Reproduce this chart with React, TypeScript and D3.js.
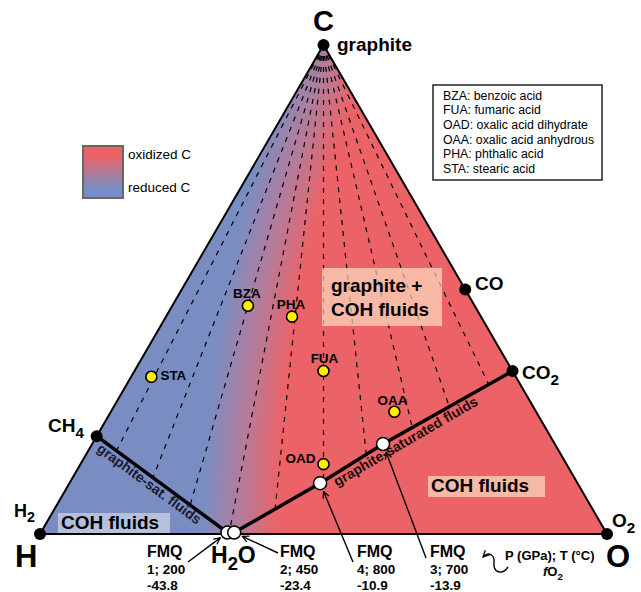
import React from "react";
import * as d3 from "d3";

const FONT = "'Liberation Sans', Arial, Helvetica, sans-serif";

// atomic C-H-O proportions of the species drawn as black dots
const species = [
  { name: "graphite", c: 1, h: 0, o: 0 },
  { name: "CH4", c: 1, h: 4, o: 0 },
  { name: "H2", c: 0, h: 2, o: 0 },
  { name: "O2", c: 0, h: 0, o: 2 },
  { name: "CO", c: 1, h: 0, o: 1 },
  { name: "CO2", c: 1, h: 0, o: 2 },
];

const water = { name: "H2O", c: 0, h: 2, o: 1 };

// starting materials (atoms per formula unit)
const compounds = [
  { code: "BZA", name: "benzoic acid", c: 7, h: 6, o: 2 },
  { code: "FUA", name: "fumaric acid", c: 4, h: 4, o: 4 },
  { code: "OAD", name: "oxalic acid dihydrate", c: 2, h: 6, o: 6 },
  { code: "OAA", name: "oxalic acid anhydrous", c: 2, h: 2, o: 4 },
  { code: "PHA", name: "phthalic acid", c: 8, h: 6, o: 4 },
  { code: "STA", name: "stearic acid", c: 18, h: 36, o: 2 },
];

// graphite-saturated fluids at FMQ: P (GPa), T (°C), log fO2
const fmqFluids = [
  { run: 1, p: 1, t: 200, logfO2: "-43.8", c: 0.003, h: 0.668, o: 0.329 },
  { run: 2, p: 2, t: 450, logfO2: "-23.4", c: 0.003, h: 0.656, o: 0.341 },
  { run: 4, p: 4, t: 800, logfO2: "-10.9", c: 0.104, h: 0.454, o: 0.442 },
  { run: 3, p: 3, t: 700, logfO2: "-13.9", c: 0.184, h: 0.303, o: 0.513 },
];

// O/(O+H) of the dashed lines radiating from C
const ratioLines = [0.06, 0.16, 0.25, 1 / 3, 0.41, 0.5, 0.59, 0.7, 0.8, 0.92];

const BLUE = "#7a8dc2";
const RED = "#eb6367";

type Pt = [number, number];

function hit(p1: Pt, p2: Pt, p3: Pt, p4: Pt) {
  const d = (p2[0] - p1[0]) * (p4[1] - p3[1]) - (p2[1] - p1[1]) * (p4[0] - p3[0]);
  if (Math.abs(d) < 1e-9) return null;
  const t = ((p3[0] - p1[0]) * (p4[1] - p3[1]) - (p3[1] - p1[1]) * (p4[0] - p3[0])) / d;
  const u = ((p3[0] - p1[0]) * (p2[1] - p1[1]) - (p3[1] - p1[1]) * (p2[0] - p1[0])) / d;
  if (t < 0 || t > 1 || u < 0 || u > 1) return null;
  return t;
}

const Sub = ({ children, size }: any) => (
  <tspan dy={size * 0.3} fontSize={size * 0.8}>{children}</tspan>
);

export default function App() {
  const width = 641;
  const height = 592;

  const xScale = d3.scaleLinear().domain([0, 1]).range([40, 607]);
  const yScale = d3.scaleLinear().domain([0, 1]).range([534, 45]);

  const project = (d: any): Pt => {
    const s = d.c + d.h + d.o;
    const c = d.c / s;
    const o = d.o / s;
    return [xScale(o + c / 2), yScale(c)];
  };

  const C = project({ c: 1, h: 0, o: 0 });
  const Hv = project({ c: 0, h: 1, o: 0 });
  const Ov = project({ c: 0, h: 0, o: 1 });
  const sp: any = {};
  species.forEach((s) => (sp[s.name] = project(s)));
  const fl: any = {};
  fmqFluids.forEach((f) => (fl[f.run] = project(f)));

  const leftBranch: Pt[] = [sp.CH4, fl[1]];
  const rightBranch: Pt[] = [fl[2], fl[4], fl[3], sp.CO2];
  const segs: [Pt, Pt][] = [];
  [leftBranch, rightBranch].forEach((b) =>
    b.slice(1).forEach((p, i) => segs.push([b[i], p]))
  );

  const dashes = ratioLines.map((r) => {
    const end = project({ c: 0, h: 1 - r, o: r });
    let tMin = 1;
    segs.forEach(([a, b]) => {
      const t = hit(C, end, a, b);
      if (t !== null && t < tMin) tMin = t;
    });
    return [C, [C[0] + (end[0] - C[0]) * tMin, C[1] + (end[1] - C[1]) * tMin]] as [Pt, Pt];
  });

  const line = d3.line();

  // transform for text running along a branch, offset to its lower side
  const along = (a: Pt, b: Pt, dist: number, off: number) => {
    const len = Math.hypot(b[0] - a[0], b[1] - a[1]);
    const ux = (b[0] - a[0]) / len;
    const uy = (b[1] - a[1]) / len;
    const nx = -uy;
    const ny = ux;
    const ang = (Math.atan2(uy, ux) * 180) / Math.PI;
    return `translate(${a[0] + ux * dist + nx * off},${a[1] + uy * dist + ny * off}) rotate(${ang})`;
  };

  const compoundLabel: any = {
    BZA: { dx: -1, dy: -8, anchor: "middle" },
    PHA: { dx: -1, dy: -8, anchor: "middle" },
    FUA: { dx: 1, dy: -8, anchor: "middle" },
    OAA: { dx: -2, dy: -7, anchor: "middle" },
    STA: { dx: 9, dy: 3, anchor: "start" },
    OAD: { dx: -8, dy: -1, anchor: "end" },
  };

  const fmqLayout: any = {
    1: { lx: 147, tail: [188, 562] },
    2: { lx: 280, tail: [278, 553] },
    4: { lx: 357, tail: [353, 562] },
    3: { lx: 430, tail: [426, 558] },
  };

  const arrowHead = (p: Pt, tail: number[], gap: number): Pt => {
    const len = Math.hypot(tail[0] - p[0], tail[1] - p[1]);
    return [p[0] + ((tail[0] - p[0]) / len) * gap, p[1] + ((tail[1] - p[1]) / len) * gap];
  };

  const h2o = project(water);

  return (
    <svg
      width={width}
      height={height}
      style={{ position: "absolute", left: 0, top: 0, background: "#fff" }}
      fontFamily={FONT}
    >
      <defs>
        <radialGradient id="redox" gradientUnits="userSpaceOnUse" cx={1537} cy={530} r={1400}>
          <stop offset="0" stopColor={RED} />
          <stop offset="0.9" stopColor={RED} />
          <stop offset="0.926" stopColor="#b47c9c" />
          <stop offset="0.952" stopColor={BLUE} />
          <stop offset="1" stopColor={BLUE} />
        </radialGradient>
        <linearGradient id="legendGrad" x1="0" y1="0" x2="0" y2="1">
          <stop offset="0.2" stopColor={RED} />
          <stop offset="0.8" stopColor={BLUE} />
        </linearGradient>
        <marker
          id="arr"
          viewBox="0 0 10 10"
          refX="9"
          refY="5"
          markerWidth="8"
          markerHeight="8"
          markerUnits="userSpaceOnUse"
          orient="auto"
        >
          <path d="M1,1 L9,5 L1,9" fill="none" stroke="#000" strokeWidth="1.6" />
        </marker>
      </defs>

      {/* triangle */}
      <path d={line([C, Hv, Ov])! + "Z"} fill="url(#redox)" />

      {dashes.map((d, i) => (
        <path key={i} d={line(d)!} stroke="#000" strokeWidth={1.2} strokeDasharray="5 6" fill="none" />
      ))}

      {/* field labels */}
      <rect x={322} y={268} width={120} height={58} fill="#ffe6c8" opacity={0.65} />
      <text x={331} y={292} fontSize={19} fontWeight="bold">graphite +</text>
      <text x={331} y={316} fontSize={19} fontWeight="bold">COH fluids</text>

      <rect x={58} y={513} width={112} height={20} fill="#fff" opacity={0.45} />
      <text x={61} y={529} fontSize={19} fontWeight="bold">COH fluids</text>

      <rect x={428} y={476} width={117} height={21} fill="#ffe6c8" opacity={0.65} />
      <text x={431} y={492} fontSize={19} fontWeight="bold">COH fluids</text>

      {/* graphite saturation */}
      <path d={line(leftBranch)!} stroke="#000" strokeWidth={3.5} fill="none" />
      <path d={line(rightBranch)!} stroke="#000" strokeWidth={3.5} fill="none" />
      <text transform={along(leftBranch[0], leftBranch[1], 8, 12)} fontSize={14} fontWeight="bold" fill="#1a1a2a">
        graphite-sat. fluids
      </text>
      <text transform={along(rightBranch[0], sp.CO2, 112, 12)} fontSize={14} fontWeight="bold" fill="#1a0a0a">
        graphite-saturated fluids
      </text>

      <path d={line([C, Hv, Ov])! + "Z"} fill="none" stroke="#000" strokeWidth={2} strokeLinejoin="round" />

      {/* arrows from FMQ labels */}
      {fmqFluids.map((f) => {
        const L = fmqLayout[f.run];
        const head = arrowHead(fl[f.run], L.tail, 9);
        return (
          <line
            key={f.run}
            x1={L.tail[0]}
            y1={L.tail[1]}
            x2={head[0]}
            y2={head[1]}
            stroke="#000"
            strokeWidth={1.4}
            markerEnd="url(#arr)"
          />
        );
      })}
      <path
        d="M508,567 C502,576 493,572 494,563 C495,555 489,551 483,557"
        fill="none"
        stroke="#000"
        strokeWidth={1.4}
        markerEnd="url(#arr)"
      />

      {/* species dots */}
      {species.map((s) => (
        <circle key={s.name} cx={sp[s.name][0]} cy={sp[s.name][1]} r={6} fill="#000" />
      ))}

      {compounds.map((c) => {
        const p = project(c);
        const L = compoundLabel[c.code];
        return (
          <g key={c.code}>
            <circle cx={p[0]} cy={p[1]} r={5.5} fill="#ffee00" stroke="#000" strokeWidth={1.6} />
            <text x={p[0] + L.dx} y={p[1] + L.dy} textAnchor={L.anchor} fontSize={13.5} fontWeight="bold">
              {c.code}
            </text>
          </g>
        );
      })}

      {fmqFluids.map((f) => (
        <circle key={f.run} cx={fl[f.run][0]} cy={fl[f.run][1]} r={6.5} fill="#fff" stroke="#000" strokeWidth={1.5} />
      ))}

      {fmqFluids.map((f) => {
        const L = fmqLayout[f.run];
        return (
          <g key={f.run} fontWeight="bold">
            <text x={L.lx} y={557} fontSize={16}>FMQ</text>
            <text x={L.lx} y={574} fontSize={13.5}>{`${f.p}; ${f.t}`}</text>
            <text x={L.lx} y={590} fontSize={13.5}>{f.logfO2}</text>
          </g>
        );
      })}

      {/* vertex and species labels */}
      <text x={C[0]} y={31} textAnchor="middle" fontSize={29} fontWeight="bold">C</text>
      <text x={337} y={51} fontSize={19} fontWeight="bold">graphite</text>
      <text x={15} y={567} fontSize={31} fontWeight="bold">H</text>
      <text x={606} y={567} fontSize={31} fontWeight="bold">O</text>
      <text x={475} y={290} fontSize={19} fontWeight="bold">CO</text>
      <text x={522} y={379} fontSize={19} fontWeight="bold">
        CO<Sub size={19}>2</Sub>
      </text>
      <text x={48} y={432} fontSize={19} fontWeight="bold">
        CH<Sub size={19}>4</Sub>
      </text>
      <text x={14} y={517} fontSize={18} fontWeight="bold">
        H<Sub size={18}>2</Sub>
      </text>
      <text x={612} y={527} fontSize={19} fontWeight="bold">
        O<Sub size={19}>2</Sub>
      </text>
      <text x={h2o[0] - 18} y={563} fontSize={23} fontWeight="bold">
        H<Sub size={23}>2</Sub>
        <tspan dy={-23 * 0.3}>O</tspan>
      </text>

      <text x={505} y={560} fontSize={13} fontWeight="bold">P (GPa); T (°C)</text>
      <text x={543} y={576} fontSize={13} fontWeight="bold">
        <tspan fontStyle="italic">f</tspan>O<Sub size={12}>2</Sub>
      </text>

      {/* colour legend */}
      <rect x={83} y={146} width={40} height={52} fill="url(#legendGrad)" stroke="#666" strokeWidth={2} />
      <text x={128} y={159} fontSize={13.5}>oxidized C</text>
      <text x={128} y={192} fontSize={13.5}>reduced C</text>

      {/* abbreviations */}
      <rect x={433} y={85} width={169} height={95} fill="#fff" stroke="#222" strokeWidth={1.5} />
      {compounds.map((c, i) => (
        <text key={c.code} x={443} y={99.5 + i * 14.7} fontSize={12.3}>
          {`${c.code}: ${c.name}`}
        </text>
      ))}
    </svg>
  );
}
